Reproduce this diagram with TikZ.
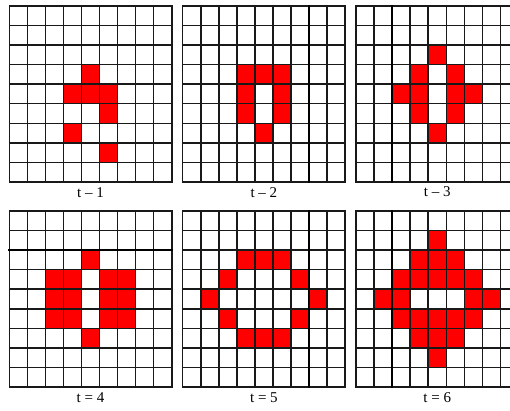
\documentclass[tikz,border=0pt]{standalone}
\usepackage{fontspec}
\setmainfont{Liberation Serif}
\tikzset{
  cellfill/.style={fill=red},
  gridline/.style={line width=1.5pt, draw=black!90, line cap=rect},
  thickline/.style={line width=2.3pt, draw=black, line cap=rect},
  lbl/.style={font=\fontsize{15}{17}\selectfont, inner sep=0pt, text=black}
}
\newcommand\gridpanel[3]{% x0, y0, cells r/c
 \begin{scope}[shift={(#1,#2)}]
  \foreach \r/\c in {#3} {\fill[cellfill] (\c*18.05, \r*19.55) rectangle ++(18.05,19.55);}
  \foreach \i in {0,...,9} {
    \draw[gridline] (\i*18.05,0) -- (\i*18.05,175.95);
    \draw[gridline] (0,\i*19.55) -- (162.45,\i*19.55);
  }
 \end{scope}}
\begin{document}
\begin{tikzpicture}[x=1pt,y=-1pt]
\useasboundingbox (0,0) rectangle (510,411);
\fill[white] (0,0) rectangle (510,411);
\clip (0,0) rectangle (510,411);
% t-1
\gridpanel{9.3}{6}{3/4,4/3,4/4,4/5,5/5,6/3,7/5}
% t-2
\gridpanel{182.7}{6}{3/3,3/4,3/5,4/3,4/5,5/3,5/5,6/4}
\draw[thickline] (182.7+7*18.05,6) -- (182.7+7*18.05,181.95);
% t-3
\gridpanel{356}{6}{2/4,3/3,3/5,4/2,4/3,4/5,4/6,5/3,5/5,6/4}
\draw[thickline] (356+2*18.05,6) -- (356+2*18.05,181.95);
% t=4
\gridpanel{9.3}{211}{2/4,3/2,3/3,3/5,3/6,4/2,4/3,4/5,4/6,5/2,5/3,5/5,5/6,6/4}
\draw[thickline] (9.3,211+2*19.55) -- (9.3+162.45,211+2*19.55);
% t=5
\gridpanel{182.7}{211}{2/3,2/4,2/5,3/2,3/6,4/1,4/7,5/2,5/6,6/3,6/4,6/5}
\draw[thickline] (182.7+7*18.05,211) -- (182.7+7*18.05,386.95);
% t=6
\gridpanel{356}{211}{1/4,2/3,2/4,2/5,3/2,3/3,3/4,3/5,3/6,4/1,4/2,4/6,4/7,5/2,5/3,5/4,5/5,5/6,6/3,6/4,6/5,7/4}
\draw[thickline] (356+2*18.05,211) -- (356+2*18.05,386.95);
% labels
\node[lbl] (l1) at (90.5,193) {t – 1};
\node[lbl] (l2) at (263.9,193) {t – 2};
\node[lbl] (l3) at (437.2,192) {t – 3};
\node[lbl] (l4) at (90.5,398) {t = 4};
\node[lbl] (l5) at (263.9,398) {t = 5};
\node[lbl] (l6) at (437.2,398) {t = 6};
\end{tikzpicture}
\end{document}
